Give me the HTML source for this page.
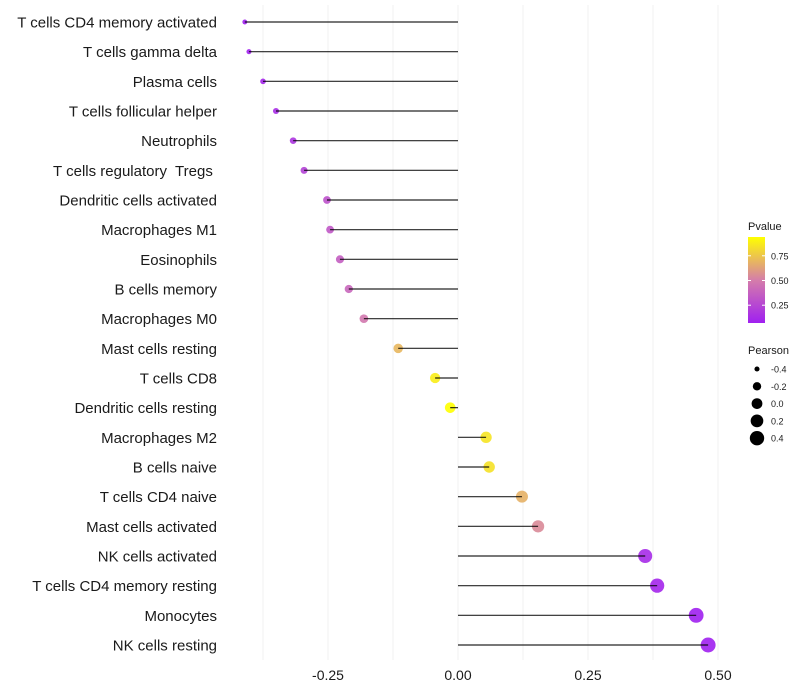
<!DOCTYPE html>
<html><head><meta charset="utf-8"><style>
html,body{margin:0;padding:0;background:#fff;}
svg{display:block;font-family:"Liberation Sans",sans-serif;}
text{white-space:pre;}
</style></head><body>
<svg id="chart" width="800" height="700"></svg>
<script>
const categories=["T cells CD4 memory activated","T cells gamma delta","Plasma cells","T cells follicular helper","Neutrophils","T cells regulatory  Tregs ","Dendritic cells activated","Macrophages M1","Eosinophils","B cells memory","Macrophages M0","Mast cells resting","T cells CD8","Dendritic cells resting","Macrophages M2","B cells naive","T cells CD4 naive","Mast cells activated","NK cells activated","T cells CD4 memory resting","Monocytes","NK cells resting"];
const pearson=[-0.41,-0.402,-0.375,-0.35,-0.317,-0.296,-0.252,-0.246,-0.227,-0.21,-0.181,-0.115,-0.044,-0.015,0.054,0.06,0.123,0.154,0.36,0.383,0.458,0.481];
const pvalues=[0.07,0.08,0.1,0.13,0.17,0.23,0.3,0.33,0.36,0.4,0.48,0.7,0.88,0.94,0.85,0.84,0.68,0.55,0.12,0.1,0.07,0.07];
const xTicks=[-0.25,0,0.25,0.5];
const xTickLabels=["-0.25","0.00","0.25","0.50"];
const xMinor=[-0.375,-0.125,0.125,0.375];
const colorTicks=[0.25,0.5,0.75];
const sizeTicks=[-0.4,-0.2,0,0.2,0.4];

const NS="http://www.w3.org/2000/svg";
const svg=document.getElementById('chart');
function mk(t,a,p){const e=document.createElementNS(NS,t);for(const k in a)e.setAttribute(k,a[k]);(p||svg).appendChild(e);return e;}
const xs=v=>458+v*520;
const ys=i=>22+i*(623/21);
const pMin=0.07,pMax=0.94;
function col(p){
  let t=Math.max(0,Math.min(1,(p-pMin)/(pMax-pMin)));
  const stops=[[160,32,240],[213,125,170],[255,255,0]];
  let a,b,u;
  if(t<0.5){a=stops[0];b=stops[1];u=t/0.5;}else{a=stops[1];b=stops[2];u=(t-0.5)/0.5;}
  return `rgb(${a.map((c,i)=>Math.round(c+(b[i]-c)*u)).join(',')})`;
}
const rs=v=>Math.sqrt(Math.max(1,29+56.2*v));

const grid=mk('g',{});


xMinor.concat(xTicks).forEach(v=>{mk('line',{x1:xs(v),x2:xs(v),y1:5,y2:660,stroke:'#f0f0f0','stroke-width':1},grid);});

const pts=mk('g',{});


categories.forEach((c,i)=>{
  const t=mk('text',{x:217,y:ys(i)+5.5,'text-anchor':'end','font-size':15,fill:'#1a1a1a'});
  t.textContent=c;
  
  
  const ci=mk('circle',{cx:xs(pearson[i]),cy:ys(i),r:rs(pearson[i]),fill:col(pvalues[i]),'fill-opacity':0.9},pts);
  
  
  const l=mk('line',{x1:xs(0),x2:xs(pearson[i]),y1:ys(i),y2:ys(i),stroke:'#000','stroke-width':1.2,'stroke-opacity':0.85});
  
  
});
xTicks.forEach((v,i)=>{
  const t=mk('text',{x:xs(v),y:680,'text-anchor':'middle','font-size':14,fill:'#1a1a1a'});
  t.textContent=xTickLabels[i];
  
  
});
const lg=mk('g',{});


const defs=mk('defs',{});
const gr=mk('linearGradient',{id:'cg',x1:0,y1:1,x2:0,y2:0},defs);
[0,0.5,1].forEach((o,i)=>mk('stop',{offset:o,'stop-color':col(pMin+o*(pMax-pMin))},gr));
const tt=mk('text',{x:748,y:230,'font-size':11,fill:'#1a1a1a'},lg);tt.textContent='Pvalue';
mk('rect',{x:748,y:237,width:17,height:86,fill:'url(#cg)'},lg);
const cy=p=>237+86*(1-(p-pMin)/(pMax-pMin));
colorTicks.forEach(p=>{
  mk('line',{x1:748,x2:751,y1:cy(p),y2:cy(p),stroke:'#fff'},lg);
  mk('line',{x1:762,x2:765,y1:cy(p),y2:cy(p),stroke:'#fff'},lg);
  const t=mk('text',{x:771,y:cy(p)+3.5,'font-size':9,fill:'#1a1a1a'},lg);t.textContent=p.toFixed(2);
});
const sg=mk('g',{});


const st=mk('text',{x:748,y:354,'font-size':11,fill:'#1a1a1a'},sg);st.textContent='Pearson';
sizeTicks.forEach((v,i)=>{
  const y=369+i*17.3;
  mk('circle',{cx:757,cy:y,r:rs(v),fill:'#000'},sg);
  const t=mk('text',{x:771,y:y+3.5,'font-size':9,fill:'#1a1a1a'},sg);t.textContent=v.toFixed(1);
});
</script>
</body></html>
